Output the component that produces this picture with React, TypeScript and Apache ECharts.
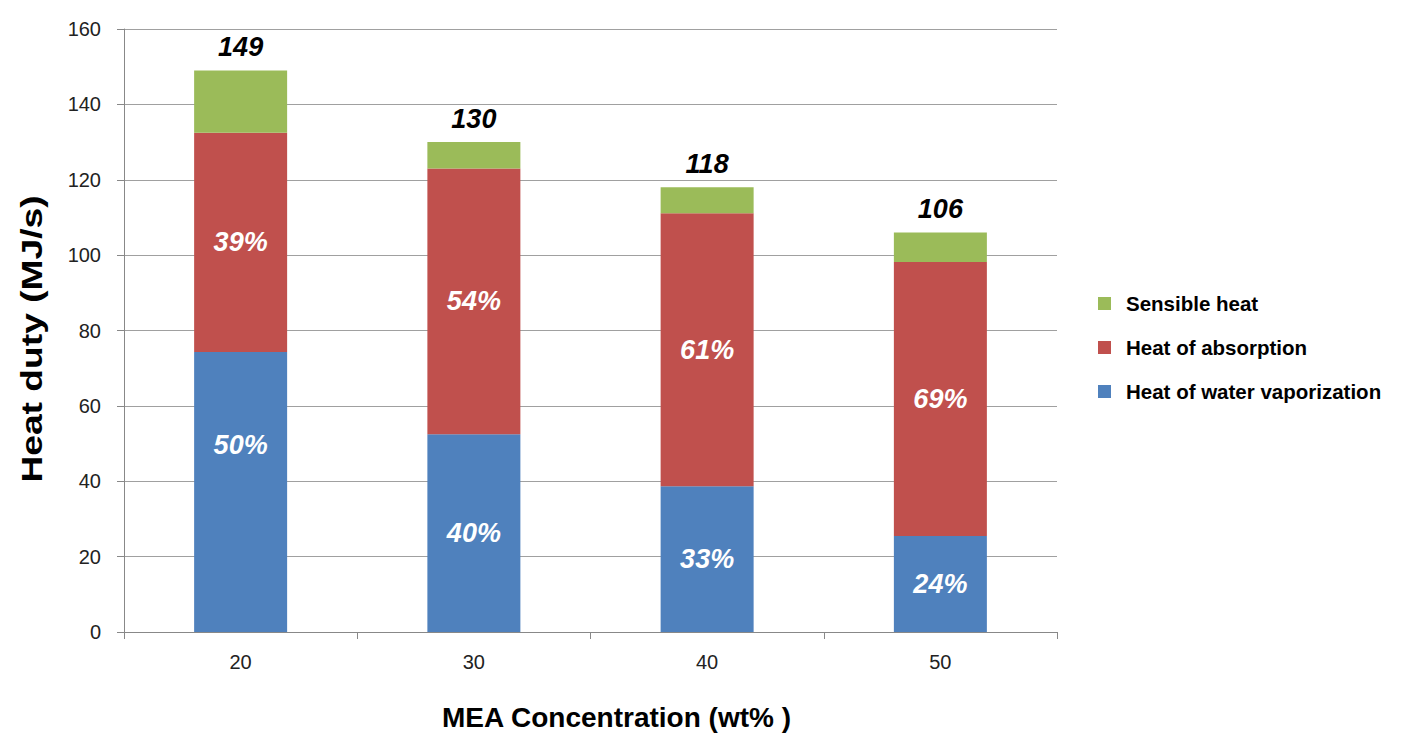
import React, { useEffect, useRef } from "react";
import * as echarts from "echarts";

const categories = ["20", "30", "40", "50"];
const waterVaporization = [74.3, 52.5, 38.7, 25.5];
const absorption = [58.2, 70.5, 72.4, 72.7];
const sensible = [16.5, 7.0, 6.9, 7.8];
const totals = ["149", "130", "118", "106"];
const waterPct = ["50%", "40%", "33%", "24%"];
const absorptionPct = ["39%", "54%", "61%", "69%"];
const seriesNames = ["Heat of water vaporization", "Heat of absorption", "Sensible heat"];
const yAxisTitle = "Heat duty (MJ/s)";
const xAxisTitle = "MEA Concentration (wt% )";

const FONT = "'Liberation Sans', Arial, sans-serif";

export default function App() {
  const ref = useRef<HTMLDivElement>(null);
  useEffect(() => {
    if (!ref.current) return;
    const chart = echarts.init(ref.current, null, { renderer: "svg" });
    const pctLabel = {
      show: true,
      position: "inside",
      color: "#fff",
      fontFamily: FONT,
      fontWeight: "bold",
      fontStyle: "italic",
      fontSize: 27,
    };
    chart.setOption({
      animation: false,
      backgroundColor: "#fff",
      grid: { left: 124, right: 357, top: 29, bottom: 110, containLabel: false },
      graphic: [
        {
          type: "text",
          x: 31,
          y: 339,
          rotation: Math.PI / 2,
          scaleX: 1.24,
          style: {
            text: yAxisTitle,
            fontFamily: FONT,
            fontWeight: "bold",
            fontSize: 30,
            fill: "#000",
            align: "center",
            verticalAlign: "middle",
          },
        },
      ],
      legend: {
        orient: "vertical",
        left: 1093,
        top: 288,
        itemWidth: 13,
        itemHeight: 13,
        itemGap: 23,
        icon: "rect",
        data: ["Sensible heat", "Heat of absorption", "Heat of water vaporization"],
        textStyle: { fontFamily: FONT, fontWeight: "bold", fontSize: 20.5, color: "#000", padding: [0, 0, 0, 10] },
      },
      xAxis: {
        type: "category",
        data: categories,
        name: xAxisTitle,
        nameLocation: "middle",
        nameGap: 71,
        nameTextStyle: { fontFamily: FONT, fontWeight: "bold", fontSize: 28, color: "#000", padding: [0, 0, 0, 52] },
        axisLine: { lineStyle: { color: "#888", width: 1 } },
        axisTick: { show: true, length: 7, lineStyle: { color: "#888" } },
        axisLabel: { fontFamily: FONT, fontSize: 20, color: "#222", margin: 20 },
      },
      yAxis: {
        type: "value",
        min: 0,
        max: 160,
        interval: 20,
        axisLine: { show: true, lineStyle: { color: "#888", width: 1 } },
        axisTick: { show: true, length: 7, lineStyle: { color: "#888" } },
        axisLabel: { fontFamily: FONT, fontSize: 20, color: "#222", margin: 23 },
        splitLine: { lineStyle: { color: "#a0a0a0", width: 1 } },
      },
      series: [
        {
          name: seriesNames[0],
          type: "bar",
          stack: "total",
          barWidth: 93,
          itemStyle: { color: "#4F81BD" },
          label: { ...pctLabel, formatter: (p: any) => waterPct[p.dataIndex] },
          data: waterVaporization.map((v, i) => (i === 0 ? { value: v, label: { offset: [0, -47] } } : v)),
        },
        {
          name: seriesNames[1],
          type: "bar",
          stack: "total",
          itemStyle: { color: "#C0504D" },
          label: { ...pctLabel, formatter: (p: any) => absorptionPct[p.dataIndex] },
          data: absorption,
        },
        {
          name: seriesNames[2],
          type: "bar",
          stack: "total",
          itemStyle: { color: "#9BBB59" },
          label: {
            show: true,
            position: "top",
            distance: 10,
            color: "#000",
            fontFamily: FONT,
            fontWeight: "bold",
            fontStyle: "italic",
            fontSize: 27,
            formatter: (p: any) => totals[p.dataIndex],
          },
          data: sensible,
        },
      ],
    });
    return () => chart.dispose();
  }, []);
  return (
    <div
      ref={ref}
      style={{ position: "fixed", left: 0, top: 0, width: 1414, height: 742, background: "#fff" }}
    />
  );
}
